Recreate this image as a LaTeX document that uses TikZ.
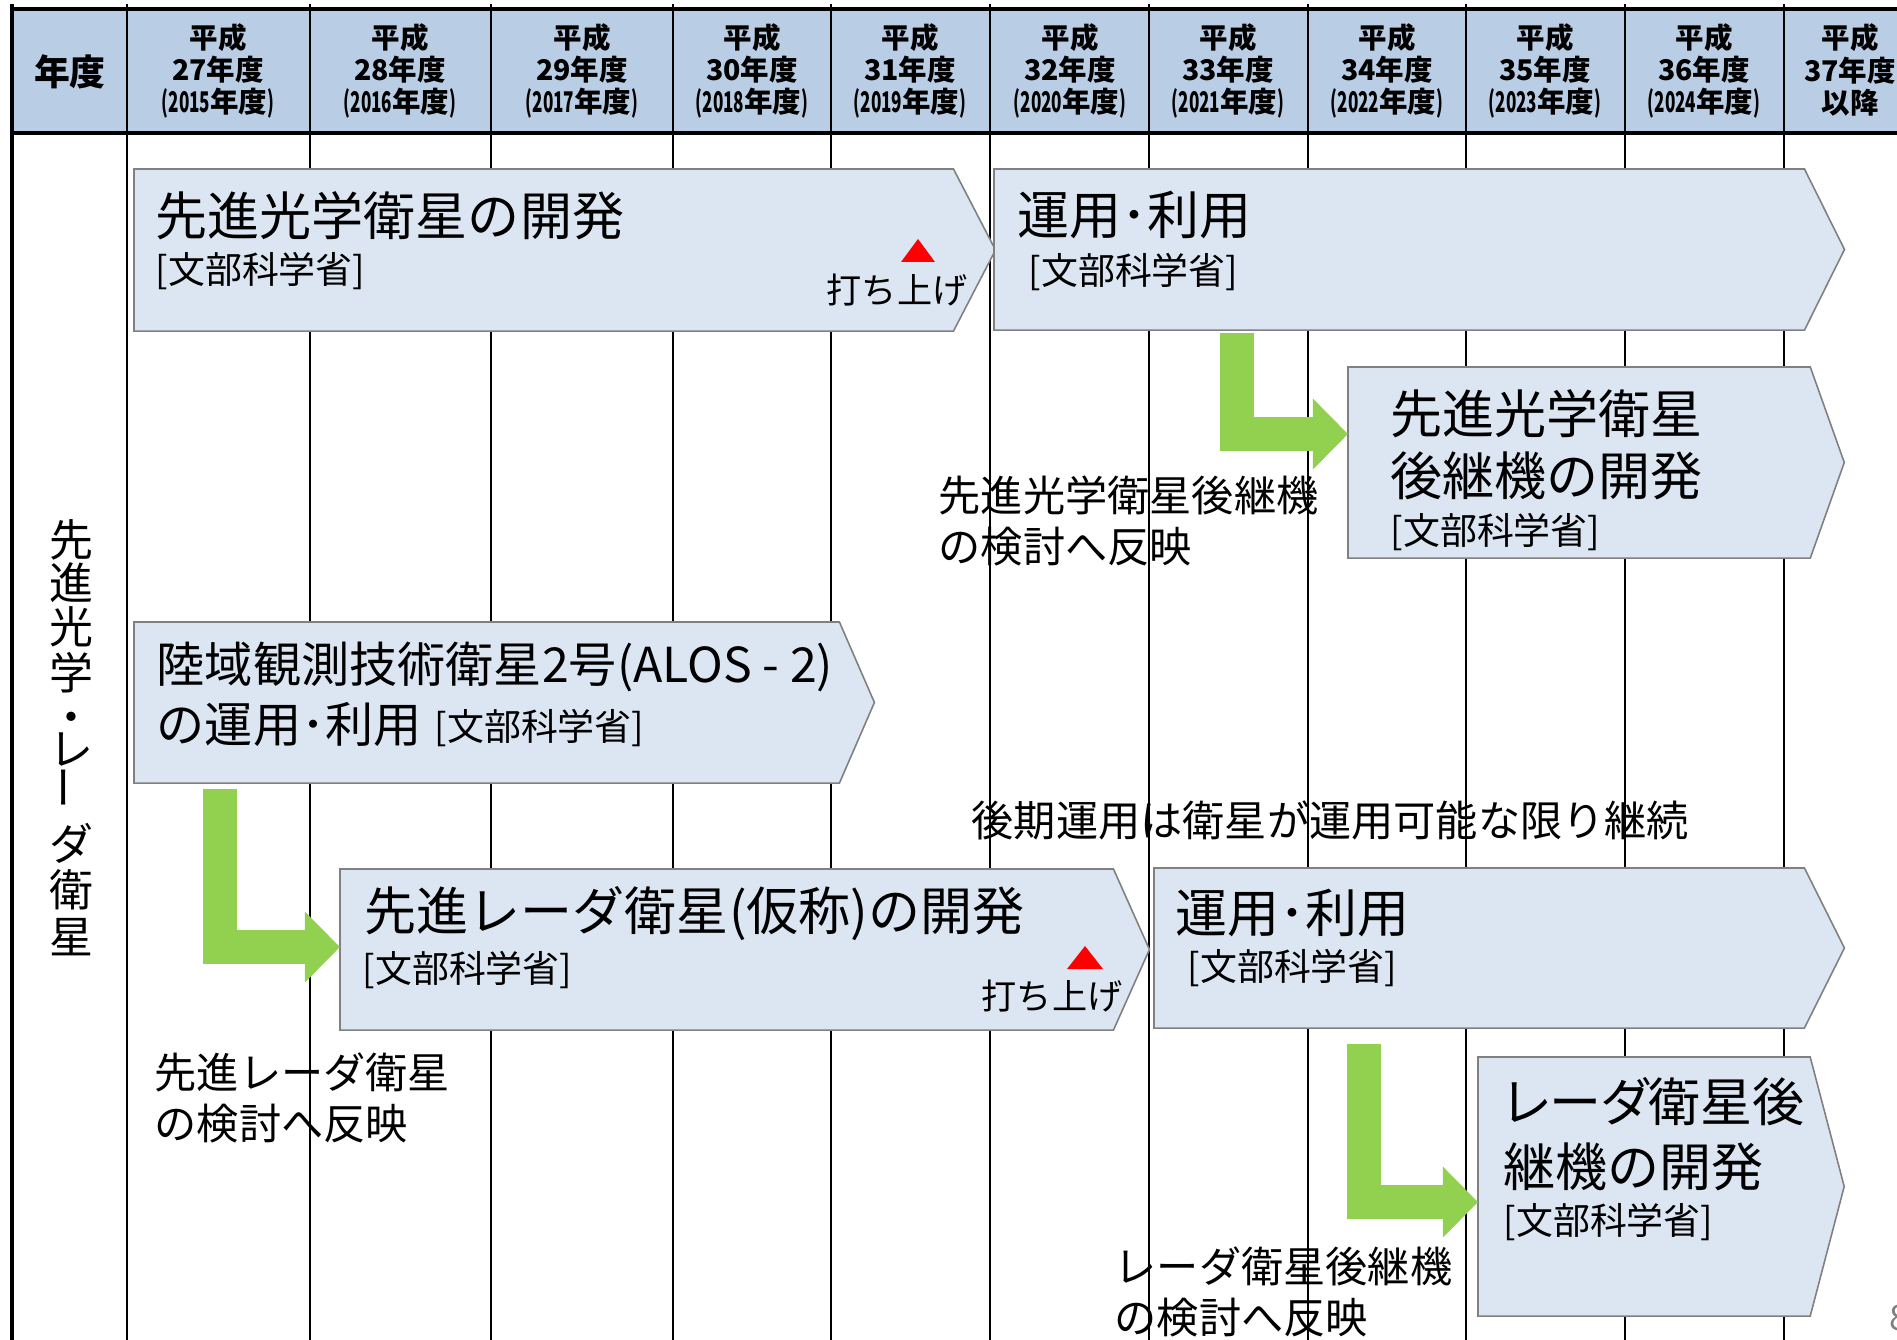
\documentclass[tikz,border=0pt]{standalone}
\usepackage{fontspec}
\setmainfont{Noto Sans CJK JP}
\usepackage{graphicx}
\usetikzlibrary{arrows.meta,calc}
\definecolor{headfill}{RGB}{185,205,229}
\definecolor{boxfill}{RGB}{220,230,242}
\definecolor{boxline}{RGB}{128,128,128}
\definecolor{gogreen}{RGB}{146,208,80}
\newcommand{\narrowdig}[2][0.6]{\scalebox{#1}[1]{#2}}

\begin{document}
\begin{tikzpicture}[x=0.01cm, y=-0.01cm,
  grid/.style={line width=0.75pt},
  panel/.style={inner sep=0pt, outer sep=0pt, anchor=north west},
  outline/.style={draw=boxline, fill=boxfill, line width=0.45pt},
  go/.style={draw=gogreen, line width=9.7pt, -{Triangle[length=10pt,width=19.6pt]}},
  yearhead/.style={font=\bfseries\fontsize{8.1}{9.2}\selectfont, align=center, inner sep=0pt},
  title/.style={font=\fontsize{14.8}{17}\selectfont, anchor=west, inner sep=0pt},
  dept/.style={font=\fontsize{10.5}{12}\selectfont, anchor=west, inner sep=0pt},
  note/.style={font=\fontsize{12}{14.5}\selectfont, anchor=west, align=left, inner sep=0pt},
  launch/.style={font=\fontsize{10}{12}\selectfont, inner sep=0pt}]
\useasboundingbox (0,0) rectangle (1897,1340);

% header row
\fill[headfill] (12,9) rectangle (1897,133);
\draw[line width=1pt] (12,9) -- (1897,9);
\draw[line width=1pt] (12,133) -- (1897,133);
\draw[line width=1pt] (12,4) -- (12,1340);
\foreach \x in {127,310,491,673,831,990,1149,1308,1466,1625,1784}
  \draw[grid] (\x,4) -- (\x,1340);

\node[font=\bfseries\fontsize{10.2}{12}\selectfont, inner sep=0pt] (nendo) at (70,72) {年度};
\foreach \x/\hs/\ad in {218/27/2015, 400/28/2016, 582/29/2017, 752/30/2018, 910/31/2019,
    1070/32/2020, 1228/33/2021, 1387/34/2022, 1545/35/2023, 1704/36/2024}
  \node[yearhead] (h\hs) at (\x,71) {平成\\\hs 年度\\\narrowdig{(\ad}年度\narrowdig{)}};
\node[yearhead] (h37) at (1850,70) {平成\\37年度\\以降};

% row label
\foreach \c/\y in {先/540, 進/583, 光/627, 学/673, ・/723, レ/750, {\rotatebox{90}{ー}}/788, ダ/843, 衛/890, 星/937}
  \node[font=\fontsize{12.5}{13}\selectfont, inner sep=0pt] (v\y) at (71,\y) {\c};

% optical satellite
\node[panel, minimum width=8.19cm, minimum height=1.62cm] (optdev) at (134,169) {};
\filldraw[outline] (optdev.north west) -- (optdev.north east) -- ++(42,81) -- (optdev.south east) -- (optdev.south west) -- cycle;
\node[title] (optdevt) at (155,216) {先進光学衛星の開発};
\node[dept] (optdevd) at (155,271) {[文部科学省]};
\fill[red] (901,262) -- (935,262) -- (918,239) -- cycle;
\node[launch] (optlaunch) at (897,290) {打ち上げ};

\node[panel, minimum width=8.10cm, minimum height=1.61cm] (optuse) at (994,169) {};
\filldraw[outline] (optuse.north west) -- (optuse.north east) -- ++(40,80.5) -- (optuse.south east) -- (optuse.south west) -- cycle;
\node[title] (optuset) at (1017,215) {運用･利用};
\node[dept] (optused) at (1028,272) {[文部科学省]};

\node[panel, minimum width=4.62cm, minimum height=1.91cm] (optnext) at (1348,367) {};
\filldraw[outline] (optnext.north west) -- (optnext.north east) -- ++(34,95.5) -- (optnext.south east) -- (optnext.south west) -- cycle;
\node[title] (optnextt) at (1390,414) {先進光学衛星};
\node[title] (optnextu) at (1390,476) {後継機の開発};
\node[dept] (optnextd) at (1390,532) {[文部科学省]};

\draw[go] ([xshift=2.43cm,yshift=-0.03cm]optuse.south west) |- ([yshift=-0.67cm]optnext.north west);
\node[note] (optnote) at (938,521) {先進光学衛星後継機\\の検討へ反映};

% radar satellite
\node[panel, minimum width=7.05cm, minimum height=1.61cm] (alos) at (134,622) {};
\filldraw[outline] (alos.north west) -- (alos.north east) -- ++(35,80.5) -- (alos.south east) -- (alos.south west) -- cycle;
\node[title, font=\fontsize{13.7}{16}\selectfont] (alost) at (156,667) {陸域観測技術衛星2号(ALOS - 2)};
\node[title, font=\fontsize{13.7}{16}\selectfont] (alosu) at (156,724) {の運用･利用};
\node[dept] (alosd) at (434,728) {[文部科学省]};

\node[panel, minimum width=7.73cm, minimum height=1.61cm] (radardev) at (340,869) {};
\filldraw[outline] (radardev.north west) -- (radardev.north east) -- ++(36,80.5) -- (radardev.south east) -- (radardev.south west) -- cycle;
\node[title] (radardevt) at (364,914) {先進レーダ衛星(仮称)の開発};
\node[dept] (radardevd) at (362,970) {[文部科学省]};
\fill[red] (1067,969) -- (1103,969) -- (1085,946) -- cycle;
\node[launch] (radarlaunch) at (1052,996) {打ち上げ};

\draw[go] ([xshift=0.86cm,yshift=-0.06cm]alos.south west) |- ([yshift=-0.78cm]radardev.north west);
\node[note] (radarnote) at (154,1098) {先進レーダ衛星\\の検討へ反映};

\node[note] (latenote) at (971,820) {後期運用は衛星が運用可能な限り継続};

\node[panel, minimum width=6.50cm, minimum height=1.60cm] (radaruse) at (1154,868) {};
\filldraw[outline] (radaruse.north west) -- (radaruse.north east) -- ++(40,80) -- (radaruse.south east) -- (radaruse.south west) -- cycle;
\node[title] (radaruset) at (1175,913) {運用･利用};
\node[dept] (radarused) at (1187,968) {[文部科学省]};

\node[panel, minimum width=3.32cm, minimum height=2.59cm] (radarnext) at (1478,1057) {};
\filldraw[outline] (radarnext.north west) -- (radarnext.north east) -- ++(34,129.5) -- (radarnext.south east) -- (radarnext.south west) -- cycle;
\node[title] (radarnextt) at (1503,1102) {\addfontfeature{RawFeature=+palt}レーダ衛星後};
\node[title] (radarnextu) at (1503,1167) {継機の開発};
\node[dept] (radarnextd) at (1503,1222) {[文部科学省]};

\draw[go] ([xshift=2.10cm,yshift=-0.16cm]radaruse.south west) |- ([yshift=-1.45cm]radarnext.north west);
\node[note] (nextnote) at (1114,1292) {レーダ衛星後継機\\の検討へ反映};

\node[font=\fontsize{10}{12}\selectfont, text=gray, anchor=west, inner sep=0pt] (pageno) at (1889,1318) {8};
\end{tikzpicture}
\end{document}
